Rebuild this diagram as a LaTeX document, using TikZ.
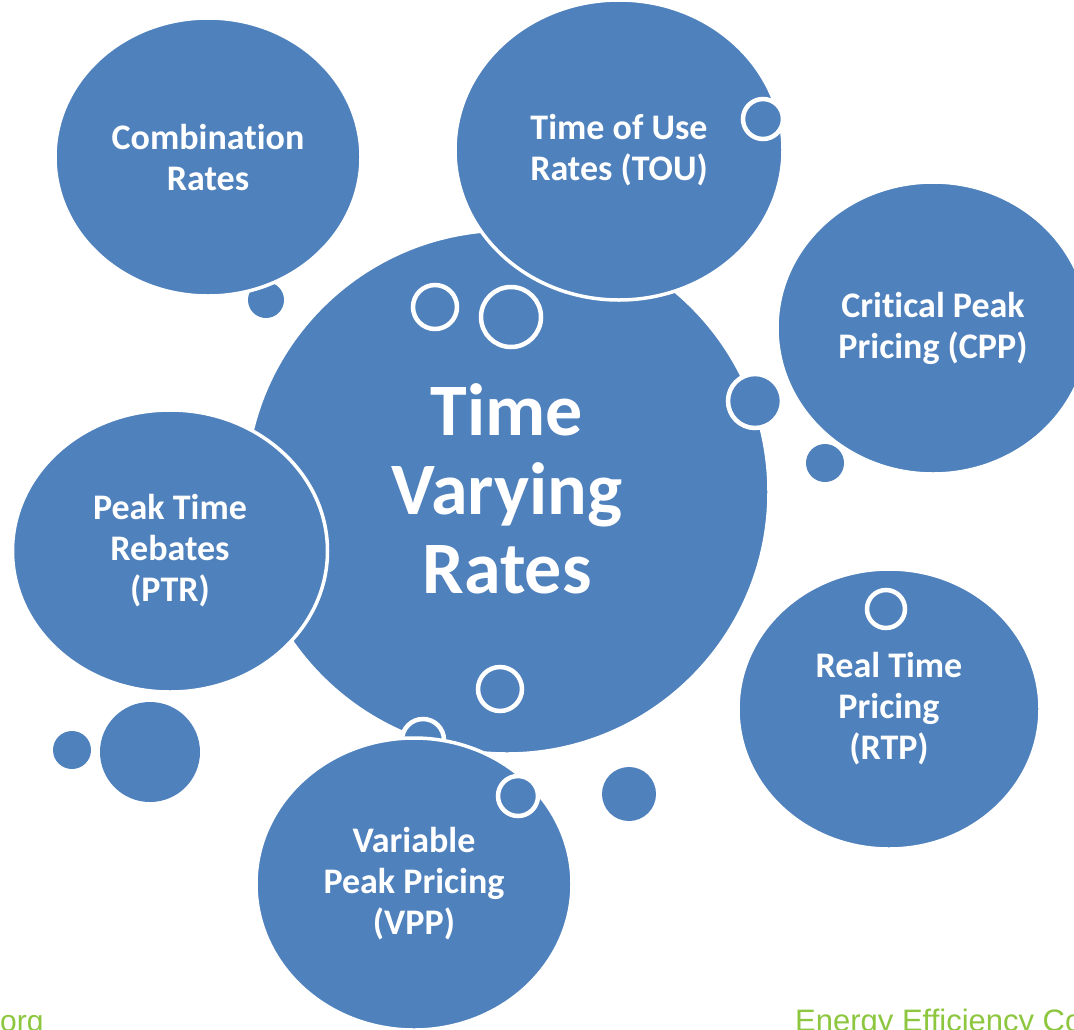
\documentclass[tikz,border=0pt]{standalone}
\usepackage{fontspec}
\setmainfont{Carlito}[Ligatures={NoCommon,NoContextual},RawFeature={-liga;-clig;-calt}]
\newfontfamily\footfont{Liberation Sans}
\definecolor{RateBlue}{HTML}{4F81BD}
\definecolor{FootGreen}{HTML}{8DC63F}
\usetikzlibrary{shapes.geometric}

\begin{document}
\begin{tikzpicture}[x=1pt,y=-1pt,
  bubble/.style={ellipse,fill=RateBlue,draw=white,line width=3.5pt,inner sep=0pt,
    text=white,align=center,font=\bfseries\fontsize{36}{41}\selectfont},
  ring/.style={circle,fill=RateBlue,draw=white,line width=4.5pt,inner sep=0pt},
  dot/.style={circle,fill=RateBlue,inner sep=0pt}]
  \useasboundingbox[fill=white] (0,0) rectangle (1074,1029);

  % central bubble and the rings sitting on it
  \node[bubble,minimum width=524pt,minimum height=524pt,font=\bfseries\fontsize{74}{79}\selectfont]
    (tvr) at (507,492) {Time\\Varying\\Rates\vspace{6pt}};
  \node[ring,minimum size=44pt] (r1) at (435,307) {};
  \node[ring,minimum size=60pt] (r2) at (511,317) {};
  \node[ring,minimum size=44pt] (r3) at (500,689) {};
  \node[ring,minimum size=54pt] (r4) at (755,401) {};
  \node[ring,minimum size=42pt] (r5) at (423,740) {};

  % outer bubbles
  \node[dot,minimum size=36pt] (d1) at (266,300) {};
  \node[bubble,minimum width=306pt,minimum height=278pt] (comb) at (208,157) {Combination\\Rates};
  \node[bubble,minimum width=328pt,minimum height=300pt] (tou) at (619,150) {Time of Use\\Rates (TOU)};
  \node[ring,minimum size=40pt] (r6) at (763,119) {};
  \node[bubble,minimum width=315pt,minimum height=282pt] (ptr) at (170,551) {Peak Time\\Rebates\\(PTR)};
  \node[bubble,minimum width=316pt,minimum height=292pt] (vpp) at (414,884) {Variable\\Peak Pricing\\(VPP)};
  \node[ring,minimum size=40pt] (r7) at (518,796) {};
  \node[bubble,minimum width=302pt,minimum height=280pt] (rtp) at (889,709) {Real Time\\Pricing\\(RTP)};
  \node[ring,minimum size=38pt] (r8) at (886,609) {};
  \node[bubble,minimum width=312pt,minimum height=292pt] (cpp) at (933,328) {Critical Peak\\Pricing (CPP)};

  % loose dots
  \node[dot,minimum size=38pt] (d2) at (825,463) {};
  \node[dot,minimum size=100pt] (d3) at (150,752) {};
  \node[dot,minimum size=38pt] (d4) at (72,750) {};
  \node[dot,minimum size=54pt] (d5) at (629,794) {};

  % footer
  \node[anchor=base west,inner sep=0pt,text=FootGreen,font=\footfont\fontsize{30}{30}\selectfont]
    (site) at (0,1031) {org};
  \node[anchor=base west,inner sep=0pt,text=FootGreen,font=\footfont\fontsize{31}{31}\selectfont]
    (org) at (795,1031) {Energy Efficiency Co};
\end{tikzpicture}
\end{document}
